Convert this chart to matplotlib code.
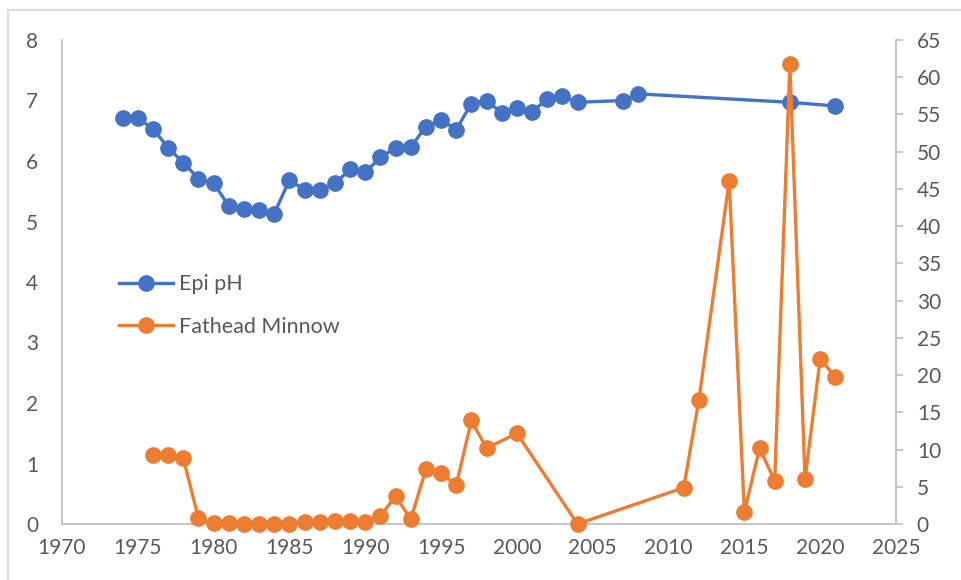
import matplotlib
matplotlib.use("Agg")
import matplotlib.pyplot as plt
from matplotlib.patches import Rectangle

plt.rcParams['font.family'] = ['Lato', 'DejaVu Sans']

# Epi pH (left axis)
ph_years = [1974, 1975, 1976, 1977, 1978, 1979, 1980, 1981, 1982, 1983, 1984,
            1985, 1986, 1987, 1988, 1989, 1990, 1991, 1992, 1993, 1994, 1995,
            1996, 1997, 1998, 1999, 2000, 2001, 2002, 2003, 2004, 2007, 2008,
            2018, 2021]
ph = [6.71, 6.71, 6.53, 6.22, 5.97, 5.71, 5.63, 5.26, 5.21, 5.19, 5.13,
      5.69, 5.52, 5.52, 5.63, 5.86, 5.81, 6.06, 6.22, 6.23, 6.57, 6.68,
      6.52, 6.95, 7.00, 6.80, 6.87, 6.81, 7.03, 7.07, 6.97, 7.00, 7.11,
      6.97, 6.91]

# Fathead Minnow (right axis)
fm_years = [1976, 1977, 1978, 1979, 1980, 1981, 1982, 1983, 1984, 1985, 1986,
            1987, 1988, 1989, 1990, 1991, 1992, 1993, 1994, 1995, 1996, 1997,
            1998, 2000, 2004, 2011, 2012, 2014, 2015, 2016, 2017, 2018, 2019,
            2020, 2021]
fm = [9.27, 9.27, 8.82, 0.76, 0.1, 0.1, 0.0, 0.0, 0.0, 0.0, 0.3,
      0.3, 0.4, 0.45, 0.3, 1.07, 3.76, 0.63, 7.34, 6.8, 5.24, 13.9,
      10.17, 12.18, 0.0, 4.88, 16.65, 46.1, 1.57, 10.17, 5.82, 61.8, 6.04,
      22.16, 19.78]

blue = '#4472C4'
orange = '#ED7D31'
txt = '#595959'
axis_col = '#BFBFBF'

fig = plt.figure(figsize=(9.61, 5.80), dpi=100)
ax = fig.add_axes([62/961, 1 - 524/580, (896 - 62)/961, (524 - 40)/580])
ax2 = ax.twinx()

l1, = ax.plot(ph_years, ph, color=blue, lw=2.4, marker='o', ms=11,
              label='Epi pH', clip_on=False)
l2, = ax2.plot(fm_years, fm, color=orange, lw=2.4, marker='o', ms=11,
               label='Fathead Minnow', clip_on=False)

ax.set_xlim(1970, 2025)
ax.set_ylim(0, 8)
ax2.set_ylim(0, 65)
ax.set_xticks(range(1970, 2026, 5))
ax.set_yticks(range(0, 9))
ax2.set_yticks(range(0, 66, 5))

for a in (ax, ax2):
    for s in a.spines.values():
        s.set_visible(False)
    a.patch.set_visible(False)

ax.spines['left'].set_visible(True)
ax.spines['bottom'].set_visible(True)
ax2.spines['right'].set_visible(True)
for s in (ax.spines['left'], ax.spines['bottom'], ax2.spines['right']):
    s.set_color(axis_col)
    s.set_linewidth(1.3)

ax.tick_params(axis='y', length=0, pad=17, labelsize=15, labelcolor=txt)
ax.tick_params(axis='x', length=0, pad=10, labelsize=15, labelcolor=txt)
ax2.tick_params(axis='y', length=5, width=1.2, color=axis_col, pad=10,
                labelsize=15, labelcolor=txt)

fig.legend(handles=[l1, l2], loc='center left',
           bbox_to_anchor=(119/961, 1 - 305.5/580), frameon=False,
           fontsize=15.5, labelcolor=txt, handlelength=2.5, handletextpad=0.3,
           borderpad=0, borderaxespad=0, labelspacing=1.05)

# light chart-area border
fig.add_artist(Rectangle((8/961, -0.1), 1.2, 1.1 - 10/580,
                         transform=fig.transFigure, fill=False,
                         edgecolor='#D9D9D9', lw=1.3))

fig.savefig('out.png', dpi=100)
